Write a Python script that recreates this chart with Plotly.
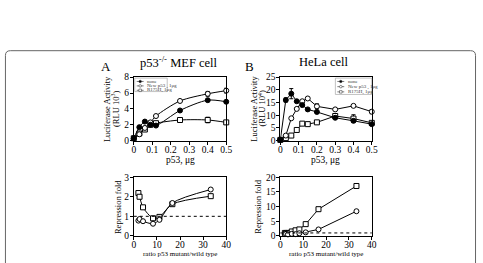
import plotly.graph_objects as go

W, H = 483, 263
FONT = "Liberation Serif"

# ---- data ----
# Panel A top (p53-/- MEF)
a_x = [0, 0.03, 0.06, 0.09, 0.12, 0.25, 0.4, 0.5]
a_none = [0.3, 1.7, 2.4, 2.0, 1.9, 3.8, 5.1, 4.9]
a_new = [0.3, 0.8, 1.6, 2.3, 3.1, 5.0, 5.9, 6.3]
a_new_err = [0, 0, 0, 0, 0, 0, 0.3, 0.3]
a_r175 = [0.3, 0.9, 1.4, 2.0, 2.2, 2.6, 2.6, 2.3]
a_r175_err = [0, 0, 0, 0, 0, 0, 0.35, 0]

# Panel B top (HeLa)
b_x = [0, 0.03, 0.06, 0.09, 0.12, 0.15, 0.2, 0.3, 0.4, 0.5]
b_none = [0.3, 16.0, 18.5, 15.5, 14.0, 12.3, 11.3, 9.0, 7.8, 6.5]
b_none_err = [0, 0.8, 2.0, 0, 0, 0, 0, 0, 0, 0]
b_new = [0.3, 2.0, 8.8, 12.5, 15.5, 16.6, 13.5, 12.3, 13.7, 11.4]
b_new_err = [0, 0, 0, 0, 0, 0, 1.0, 0, 0, 0.8]
b_r175 = [0.3, 1.0, 2.0, 4.2, 6.7, 6.5, 7.2, 9.7, 8.7, 7.0]
b_r175_err = [0, 0, 0, 0, 0, 0, 0, 0, 1.5, 0]

# Bottom A (repression fold)
ra_x = [2.0, 2.5, 4.0, 8.33, 11.1, 16.7, 33.3]
ra_sq = [2.19, 2.0, 1.46, 0.9, 0.97, 1.62, 2.03]
ra_ci = [0.78, 0.86, 0.75, 0.62, 0.82, 1.68, 2.37]

# Bottom B (repression fold)
rb_x = [2.0, 2.5, 3.33, 5.0, 6.67, 8.33, 11.1, 16.7, 33.3]
rb_sq = [1.0, 1.0, 1.0, 1.5, 1.9, 2.2, 4.0, 9.1, 17.0]
rb_ci = [0.6, 0.7, 0.5, 0.7, 0.6, 0.9, 1.2, 2.2, 8.4]

ref_level = 1

legend_labels = ["none", "New p53 , 1\u03bcg", "R175H, 1\u03bcg"]

# ---- layout helpers (pixel -> paper) ----
def px(x):
    return x / W

def py(y):
    return 1 - y / H

colL = [px(134), px(228)]
colR = [px(283), px(376)]
rowT = [py(141), py(75)]
rowB = [py(240), py(179)]

fig = go.Figure()

mk = dict(size=5, line=dict(color="black", width=1))


def add(x, y, xa, ya, symbol, fill, shape="linear", err=None):
    t = go.Scatter(
        x=x, y=y, xaxis=xa, yaxis=ya, mode="lines+markers",
        line=dict(color="black", width=1, shape=shape, smoothing=0.8),
        marker=dict(symbol=symbol, color=fill, **mk),
        showlegend=False, cliponaxis=False,
    )
    if err is not None:
        t.error_y = dict(type="data", array=err, color="black", thickness=1, width=2)
    fig.add_trace(t)


add(a_x, a_r175, "x", "y", "square", "white", "spline", a_r175_err)
add(a_x, a_new, "x", "y", "circle", "white", "spline", a_new_err)
add(a_x, a_none, "x", "y", "circle", "black", "spline")

add(b_x, b_r175, "x2", "y2", "square", "white", "linear", b_r175_err)
add(b_x, b_new, "x2", "y2", "circle", "white", "linear", b_new_err)
add(b_x, b_none, "x2", "y2", "circle", "black", "linear", b_none_err)

add(ra_x, ra_sq, "x3", "y3", "square", "white", "spline")
add(ra_x, ra_ci, "x3", "y3", "circle", "white", "spline")

add(rb_x, rb_sq, "x4", "y4", "square", "white", "linear")
add(rb_x, rb_ci, "x4", "y4", "circle", "white", "linear")

base = dict(showline=True, linecolor="black", linewidth=1, mirror=True,
            ticks="outside", ticklen=3, tickcolor="black", tickwidth=1,
            showgrid=False, zeroline=False)
xax = dict(base, tickfont=dict(family=FONT, size=9.5, color="black"), ticklabelstandoff=-3)
yax = dict(base, tickfont=dict(family=FONT, size=9.5, color="black"), ticklabelstandoff=-1)

p5 = [0, 0.1, 0.2, 0.3, 0.4, 0.5]
p5t = ["0", "0.1", "0.2", "0.3", "0.4", "0.5"]

fig.update_layout(
    width=W, height=H, margin=dict(l=0, r=0, t=0, b=0),
    paper_bgcolor="white", plot_bgcolor="white", showlegend=False,
    xaxis=dict(domain=colL, anchor="y", range=[0, 0.5], tickvals=p5, ticktext=p5t, **xax),
    yaxis=dict(domain=rowT, anchor="x", range=[0, 8], tickvals=[0, 2, 4, 6, 8], **yax),
    xaxis2=dict(domain=colR, anchor="y2", range=[0, 0.5], tickvals=p5, ticktext=p5t, **xax),
    yaxis2=dict(domain=rowT, anchor="x2", range=[0, 25], tickvals=[0, 5, 10, 15, 20, 25], **yax),
    xaxis3=dict(domain=colL, anchor="y3", range=[0, 40], tickvals=[0, 10, 20, 30, 40], **xax),
    yaxis3=dict(domain=rowB, anchor="x3", range=[0, 3], tickvals=[0, 1, 2, 3], **yax),
    xaxis4=dict(domain=colR, anchor="y4", range=[0, 40], tickvals=[0, 10, 20, 30, 40], **xax),
    yaxis4=dict(domain=rowB, anchor="x4", range=[0, 20], tickvals=[0, 5, 10, 15, 20], **yax),
)

shapes = []
# reference dashed lines
shapes.append(dict(type="line", xref="x3 domain", yref="y3", x0=0, x1=1, y0=ref_level, y1=ref_level,
                   line=dict(color="black", width=1, dash="dot")))
shapes.append(dict(type="line", xref="x4 domain", yref="y4", x0=0, x1=1, y0=ref_level, y1=ref_level,
                   line=dict(color="black", width=1, dash="dot")))

# outer rounded frame
r = 5
x0f, x1f, y0f, y1f = 3.5, 481.5, 47.5, 290
path = (f"M {px(x0f+r)},{py(y0f)} L {px(x1f-r)},{py(y0f)} "
        f"Q {px(x1f)},{py(y0f)} {px(x1f)},{py(y0f+r)} L {px(x1f)},{py(y1f)} "
        f"L {px(x0f)},{py(y1f)} L {px(x0f)},{py(y0f+r)} Q {px(x0f)},{py(y0f)} {px(x0f+r)},{py(y0f)} Z")
shapes.append(dict(type="path", xref="paper", yref="paper", path=path,
                   line=dict(color="#666666", width=1), fillcolor="rgba(0,0,0,0)"))

annotations = []


def text(x, y, s, size, angle=0, xanchor="center", yanchor="middle", color="black"):
    annotations.append(dict(x=px(x), y=py(y), xref="paper", yref="paper", text=s, showarrow=False,
                            textangle=angle, xanchor=xanchor, yanchor=yanchor,
                            font=dict(family=FONT, size=size, color=color)))


# manual legends
def legend(left, top, width, height, step):
    shapes.append(dict(type="rect", xref="paper", yref="paper", x0=px(left), x1=px(left + width),
                       y0=py(top + height), y1=py(top), line=dict(color="#999999", width=0.6),
                       fillcolor="white"))
    syms = [("circle", "black"), ("circle", "white"), ("rect", "white")]
    for i, (lab, (s, f)) in enumerate(zip(legend_labels, syms)):
        yy = top + 3.5 + i * step
        shapes.append(dict(type="line", xref="paper", yref="paper", x0=px(left + 2), x1=px(left + 9),
                           y0=py(yy), y1=py(yy), line=dict(color="#444444", width=0.7)))
        c = left + 5.5
        shapes.append(dict(type="circle" if s == "circle" else "rect", xref="paper", yref="paper",
                           x0=px(c - 1.3), x1=px(c + 1.3), y0=py(yy + 1.3), y1=py(yy - 1.3),
                           line=dict(color="#444444", width=0.6), fillcolor=f))
        text(left + 10.5, yy, lab, 5, xanchor="left", color="#333333")


legend(135, 76, 33, 14, 4.6)
legend(339, 76, 37, 17, 5.4)

fig.update_layout(shapes=shapes)

# panel labels and titles
text(106, 64, "A", 13)
text(252, 64, "B", 13)
text(180, 59, "p53<sup>-/-</sup> MEF cell", 12.5)
text(327, 59, "HeLa cell", 12.5)

# axis titles
text(107, 108, "Luciferase Activity", 8.5, angle=-90)
text(116, 108, "(RLU 10<sup>3</sup>)", 8.5, angle=-90)
text(256, 108, "Luciferase Activity", 8.5, angle=-90)
text(265, 108, "(RLU 10<sup>4</sup>)", 8.5, angle=-90)
text(181, 161.5, "p53, \u03bcg", 9.5)
text(329, 161.5, "p53, \u03bcg", 9.5)
text(118, 210, "Repression fold", 8.5, angle=-90)
text(260, 210, "Repression fold", 8.5, angle=-90)
text(181, 258.5, "ratio p53 mutant/wild type", 7)
text(329, 258.5, "ratio p53 mutant/wild type", 7)

fig.update_layout(annotations=annotations)

fig.write_html("out.html")
